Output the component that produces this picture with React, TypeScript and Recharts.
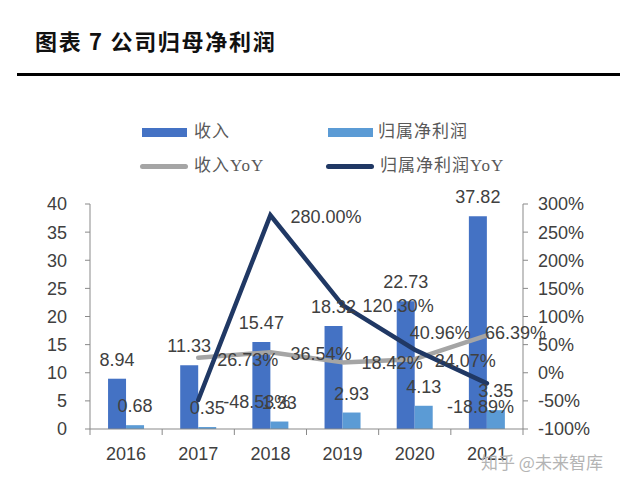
import React from 'react';
import { ComposedChart, Bar, Line, XAxis, YAxis, LabelList } from 'recharts';

const years = ['2016', '2017', '2018', '2019', '2020', '2021'];
const revenue = [8.94, 11.33, 15.47, 18.32, 22.73, 37.82];
const netProfit = [0.68, 0.35, 1.33, 2.93, 4.13, 3.35];
const revenueYoY = [null, 26.73, 36.54, 18.42, 24.07, 66.39];
const netProfitYoY = [null, -48.53, 280.0, 120.3, 40.96, -18.89];
const leftTicks = [0, 5, 10, 15, 20, 25, 30, 35, 40];
const rightTicks = [-100, -50, 0, 50, 100, 150, 200, 250, 300];

const data = years.map((year, i) => ({
    year,
    revenue: revenue[i],
    netProfit: netProfit[i],
    revenueYoY: revenueYoY[i],
    netProfitYoY: netProfitYoY[i],
}));

// layout
const W = 620;
const H = 488;
const MARGIN = { top: 204, right: 27, bottom: 29, left: 40 };
const LEFT_AXIS_W = 50;
const RIGHT_AXIS_W = 70;
const PLOT_W = W - MARGIN.left - MARGIN.right - LEFT_AXIS_W - RIGHT_AXIS_W;
const BAND = PLOT_W / years.length;

const AXIS = '#898989';
const TEXT = '#404040';
const NUM_FONT = '"Liberation Sans", Arial, sans-serif';

// label offsets (dx, dy) relative to each point, Excel-style manual placement
const revYoYOffsets = [[0, 0], [19, 2], [20, 2], [19, 1], [20, 2], [-2, -2]];
const npYoYOffsets = [[0, 0], [25, 2], [20, 2], [20, 1], [-5, -17], [-40, 24]];

const makeLineLabel = (offsets: number[][]) => (props: any) => {
    const { x, y, value, index } = props;
    if (value === null || value === undefined || x == null || y == null) return null;
    const [dx, dy] = offsets[index] || [20, 2];
    return (
        <text x={x + dx} y={y + dy} dominantBaseline="central" fill={TEXT}
            fontSize={18} fontFamily={NUM_FONT}>
            {Number(value).toFixed(2)}%
        </text>
    );
};

const XTick = (props: any) => {
    const { x, y, payload, index } = props;
    return (
        <g>
            <line x1={x - BAND / 2} y1={y} x2={x - BAND / 2} y2={y + 6} stroke={AXIS} />
            {index === years.length - 1 && (
                <line x1={x + BAND / 2} y1={y} x2={x + BAND / 2} y2={y + 6} stroke={AXIS} />
            )}
            <text x={x} y={y + 25} textAnchor="middle" dominantBaseline="central"
                fill={TEXT} fontSize={18} fontFamily={NUM_FONT}>
                {payload.value}
            </text>
        </g>
    );
};

const legendText: React.CSSProperties = {
    position: 'absolute',
    fontFamily: '"Liberation Serif", "Noto Sans CJK SC", serif',
    fontSize: 17,
    letterSpacing: 1,
    color: '#595959',
    lineHeight: '20px',
    whiteSpace: 'nowrap',
};

const App: React.FC = () => {
    return (
        <div style={{ position: 'absolute', left: 0, top: 0, width: W, height: H, background: '#fff', overflow: 'hidden' }}>
            <div style={{
                position: 'absolute', left: 35, top: 27, fontFamily: '"Noto Sans CJK SC", sans-serif',
                fontWeight: 700, fontSize: 22, lineHeight: '26px', letterSpacing: 1.7, color: '#111', whiteSpace: 'nowrap',
            }}>
                图表 7 公司归母净利润
            </div>
            <div style={{ position: 'absolute', left: 17, top: 73, width: 603, height: 2.5, background: '#000' }} />

            <div style={{ position: 'absolute', left: 142, top: 128, width: 45, height: 9, background: '#4472C4' }} />
            <div style={{ ...legendText, left: 194, top: 122 }}>收入</div>
            <div style={{ position: 'absolute', left: 328, top: 128, width: 45, height: 9, background: '#5B9BD5' }} />
            <div style={{ ...legendText, left: 378, top: 122 }}>归属净利润</div>
            <div style={{ position: 'absolute', left: 140, top: 164, width: 48, height: 5, borderRadius: 3, background: '#A5A5A5' }} />
            <div style={{ ...legendText, left: 194, top: 156 }}>收入YoY</div>
            <div style={{ position: 'absolute', left: 326, top: 164, width: 48, height: 5, borderRadius: 3, background: '#203864' }} />
            <div style={{ ...legendText, left: 380, top: 156 }}>归属净利润YoY</div>

            <div style={{ position: 'absolute', left: 0, top: 0 }}>
                <ComposedChart width={W} height={H} data={data} margin={MARGIN}
                    barCategoryGap="25%" barGap={0}>
                    <XAxis dataKey="year" height={30} tickSize={0} tickMargin={0} tickLine={false}
                        stroke={AXIS} tick={<XTick />} interval={0} />
                    <YAxis yAxisId="left" width={LEFT_AXIS_W} domain={[0, 40]} ticks={leftTicks}
                        stroke={AXIS} tickSize={5} tickMargin={18}
                        tick={{ fill: TEXT, fontSize: 18, fontFamily: NUM_FONT }} />
                    <YAxis yAxisId="right" orientation="right" width={RIGHT_AXIS_W} domain={[-100, 300]}
                        ticks={rightTicks} stroke={AXIS} tickSize={5} tickMargin={10}
                        tickFormatter={(v: number) => `${v}%`}
                        tick={{ fill: TEXT, fontSize: 18, fontFamily: NUM_FONT }} />
                    <Bar yAxisId="left" dataKey="revenue" fill="#4472C4" isAnimationActive={false}>
                        <LabelList dataKey="revenue" position="top" offset={13} fill={TEXT}
                            fontSize={18} fontFamily={NUM_FONT}
                            formatter={(v: any) => Number(v).toFixed(2)} />
                    </Bar>
                    <Bar yAxisId="left" dataKey="netProfit" fill="#5B9BD5" isAnimationActive={false}>
                        <LabelList dataKey="netProfit" position="top" offset={13} fill={TEXT}
                            fontSize={18} fontFamily={NUM_FONT}
                            formatter={(v: any) => Number(v).toFixed(2)} />
                    </Bar>
                    <Line yAxisId="right" dataKey="revenueYoY" stroke="#A5A5A5" strokeWidth={4.5}
                        strokeLinecap="round" strokeLinejoin="round" dot={false} activeDot={false}
                        isAnimationActive={false}>
                        <LabelList dataKey="revenueYoY" content={makeLineLabel(revYoYOffsets)} />
                    </Line>
                    <Line yAxisId="right" dataKey="netProfitYoY" stroke="#203864" strokeWidth={4.5}
                        strokeLinecap="round" strokeLinejoin="miter" dot={false} activeDot={false}
                        isAnimationActive={false}>
                        <LabelList dataKey="netProfitYoY" content={makeLineLabel(npYoYOffsets)} />
                    </Line>
                </ComposedChart>
            </div>

            <div style={{
                position: 'absolute', left: 481, top: 451, fontFamily: '"Noto Sans CJK SC", sans-serif',
                fontSize: 17, lineHeight: '22px', color: '#b4b4b4', whiteSpace: 'nowrap',
            }}>
                知乎 @未来智库
            </div>
        </div>
    );
};

export default App;
